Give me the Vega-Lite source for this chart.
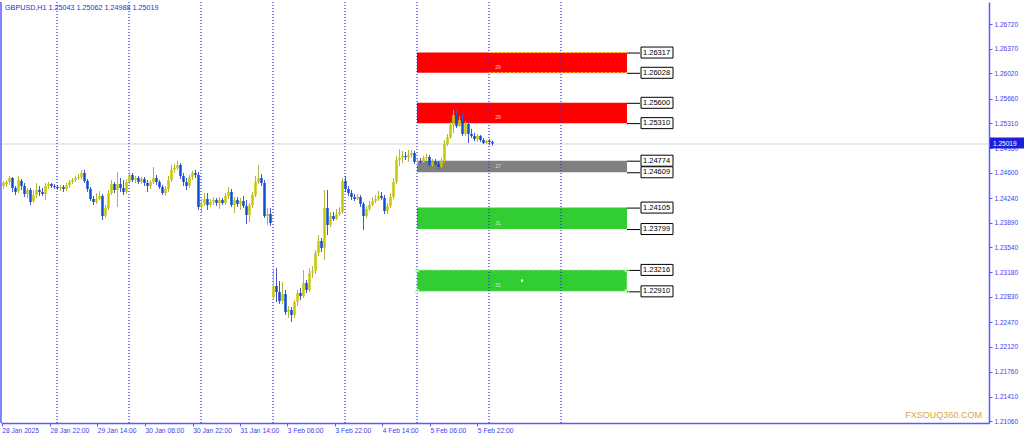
{
"$schema": "https://vega.github.io/schema/vega-lite/v6.json",
"width": 988, "height": 421, "autosize": "none",
"padding": {"left": 1, "top": 2, "right": 35, "bottom": 16},
"background": "white",
"config": {"view": {"stroke": null}},
"datasets": {
"candles": [
{"i":0,"o":1.24413,"c":1.24456,"h":1.24485,"l":1.24370},
{"i":1,"o":1.24442,"c":1.24470,"h":1.24499,"l":1.24399},
{"i":2,"o":1.24470,"c":1.24527,"h":1.24556,"l":1.24427},
{"i":3,"o":1.24527,"c":1.24385,"h":1.24542,"l":1.24328},
{"i":4,"o":1.24385,"c":1.24328,"h":1.24413,"l":1.24285},
{"i":5,"o":1.24342,"c":1.24499,"h":1.24556,"l":1.24313},
{"i":6,"o":1.24485,"c":1.24413,"h":1.24513,"l":1.24356},
{"i":7,"o":1.24413,"c":1.24299,"h":1.24456,"l":1.24256},
{"i":8,"o":1.24299,"c":1.24356,"h":1.24385,"l":1.24242},
{"i":9,"o":1.24356,"c":1.24185,"h":1.24385,"l":1.24142},
{"i":10,"o":1.24199,"c":1.24285,"h":1.24356,"l":1.24171},
{"i":11,"o":1.24285,"c":1.24356,"h":1.24456,"l":1.24242},
{"i":12,"o":1.24356,"c":1.24328,"h":1.24413,"l":1.24271},
{"i":13,"o":1.24328,"c":1.24299,"h":1.24385,"l":1.24271},
{"i":14,"o":1.24299,"c":1.24413,"h":1.24456,"l":1.24214},
{"i":15,"o":1.24413,"c":1.24442,"h":1.24470,"l":1.24370},
{"i":16,"o":1.24442,"c":1.24413,"h":1.24456,"l":1.24385},
{"i":17,"o":1.24413,"c":1.24399,"h":1.24442,"l":1.24370},
{"i":18,"o":1.24399,"c":1.24385,"h":1.24427,"l":1.24356},
{"i":19,"o":1.24385,"c":1.24399,"h":1.24427,"l":1.24342},
{"i":20,"o":1.24399,"c":1.24370,"h":1.24427,"l":1.24328},
{"i":21,"o":1.24370,"c":1.24427,"h":1.24456,"l":1.24342},
{"i":22,"o":1.24427,"c":1.24470,"h":1.24499,"l":1.24385},
{"i":23,"o":1.24470,"c":1.24499,"h":1.24527,"l":1.24442},
{"i":24,"o":1.24499,"c":1.24527,"h":1.24556,"l":1.24470},
{"i":25,"o":1.24527,"c":1.24542,"h":1.24584,"l":1.24499},
{"i":26,"o":1.24542,"c":1.24599,"h":1.24642,"l":1.24513},
{"i":27,"o":1.24599,"c":1.24485,"h":1.24642,"l":1.24456},
{"i":28,"o":1.24485,"c":1.24370,"h":1.24513,"l":1.24328},
{"i":29,"o":1.24370,"c":1.24228,"h":1.24399,"l":1.24199},
{"i":30,"o":1.24228,"c":1.24185,"h":1.24271,"l":1.24142},
{"i":31,"o":1.24185,"c":1.24228,"h":1.24313,"l":1.24157},
{"i":32,"o":1.24228,"c":1.24271,"h":1.24342,"l":1.24214},
{"i":33,"o":1.24271,"c":1.23985,"h":1.24299,"l":1.23928},
{"i":34,"o":1.23985,"c":1.24099,"h":1.24142,"l":1.23957},
{"i":35,"o":1.24099,"c":1.24313,"h":1.24356,"l":1.24071},
{"i":36,"o":1.24313,"c":1.24442,"h":1.24499,"l":1.24285},
{"i":37,"o":1.24442,"c":1.24356,"h":1.24470,"l":1.24313},
{"i":38,"o":1.24356,"c":1.24442,"h":1.24613,"l":1.24114},
{"i":39,"o":1.24442,"c":1.24385,"h":1.24527,"l":1.24328},
{"i":40,"o":1.24385,"c":1.24328,"h":1.24499,"l":1.24285},
{"i":41,"o":1.24328,"c":1.24470,"h":1.24513,"l":1.24299},
{"i":42,"o":1.24470,"c":1.24570,"h":1.24613,"l":1.24442},
{"i":43,"o":1.24570,"c":1.24499,"h":1.24599,"l":1.24470},
{"i":44,"o":1.24499,"c":1.24527,"h":1.24556,"l":1.24456},
{"i":45,"o":1.24527,"c":1.24470,"h":1.24556,"l":1.24442},
{"i":46,"o":1.24470,"c":1.24513,"h":1.24542,"l":1.24442},
{"i":47,"o":1.24513,"c":1.24456,"h":1.24542,"l":1.24413},
{"i":48,"o":1.24456,"c":1.24413,"h":1.24499,"l":1.24328},
{"i":49,"o":1.24413,"c":1.24470,"h":1.24499,"l":1.24370},
{"i":50,"o":1.24470,"c":1.24527,"h":1.24684,"l":1.24442},
{"i":51,"o":1.24527,"c":1.24470,"h":1.24570,"l":1.24427},
{"i":52,"o":1.24470,"c":1.24399,"h":1.24499,"l":1.24370},
{"i":53,"o":1.24399,"c":1.24313,"h":1.24427,"l":1.24285},
{"i":54,"o":1.24313,"c":1.24370,"h":1.24413,"l":1.24271},
{"i":55,"o":1.24370,"c":1.24499,"h":1.24556,"l":1.24328},
{"i":56,"o":1.24499,"c":1.24642,"h":1.24713,"l":1.24470},
{"i":57,"o":1.24642,"c":1.24670,"h":1.24727,"l":1.24599},
{"i":58,"o":1.24670,"c":1.24713,"h":1.24770,"l":1.24642},
{"i":59,"o":1.24713,"c":1.24556,"h":1.24741,"l":1.24513},
{"i":60,"o":1.24556,"c":1.24470,"h":1.24599,"l":1.24413},
{"i":61,"o":1.24470,"c":1.24413,"h":1.24527,"l":1.24356},
{"i":62,"o":1.24413,"c":1.24542,"h":1.24570,"l":1.24385},
{"i":63,"o":1.24542,"c":1.24599,"h":1.24627,"l":1.24499},
{"i":64,"o":1.24599,"c":1.24570,"h":1.24642,"l":1.24527},
{"i":65,"o":1.24570,"c":1.24114,"h":1.24613,"l":1.24071},
{"i":66,"o":1.24114,"c":1.24157,"h":1.24228,"l":1.24042},
{"i":67,"o":1.24157,"c":1.24228,"h":1.24313,"l":1.24128},
{"i":68,"o":1.24228,"c":1.24142,"h":1.24313,"l":1.24071},
{"i":69,"o":1.24142,"c":1.24185,"h":1.24228,"l":1.24114},
{"i":70,"o":1.24185,"c":1.24214,"h":1.24256,"l":1.24142},
{"i":71,"o":1.24214,"c":1.24171,"h":1.24242,"l":1.24128},
{"i":72,"o":1.24171,"c":1.24214,"h":1.24256,"l":1.24085},
{"i":73,"o":1.24214,"c":1.24171,"h":1.24242,"l":1.24142},
{"i":74,"o":1.24171,"c":1.24271,"h":1.24313,"l":1.24142},
{"i":75,"o":1.24271,"c":1.24328,"h":1.24399,"l":1.24228},
{"i":76,"o":1.24328,"c":1.24142,"h":1.24370,"l":1.24114},
{"i":77,"o":1.24142,"c":1.24214,"h":1.24256,"l":1.24028},
{"i":78,"o":1.24214,"c":1.24157,"h":1.24256,"l":1.24114},
{"i":79,"o":1.24157,"c":1.24199,"h":1.24242,"l":1.24071},
{"i":80,"o":1.24199,"c":1.24128,"h":1.24271,"l":1.24099},
{"i":81,"o":1.24128,"c":1.24000,"h":1.24214,"l":1.23871},
{"i":82,"o":1.24000,"c":1.24142,"h":1.24171,"l":1.23900},
{"i":83,"o":1.24142,"c":1.24285,"h":1.24328,"l":1.24099},
{"i":84,"o":1.24285,"c":1.24470,"h":1.24556,"l":1.24256},
{"i":85,"o":1.24470,"c":1.24527,"h":1.24713,"l":1.24442},
{"i":86,"o":1.24527,"c":1.24456,"h":1.24584,"l":1.24413},
{"i":87,"o":1.24456,"c":1.23985,"h":1.24499,"l":1.23957},
{"i":88,"o":1.23985,"c":1.24014,"h":1.24099,"l":1.23857},
{"i":89,"o":1.24014,"c":1.23885,"h":1.24099,"l":1.23843},
{"i":90,"o":1.22830,"c":1.22987,"h":1.23215,"l":1.22787},
{"i":91,"o":1.22987,"c":1.22901,"h":1.23243,"l":1.22758},
{"i":92,"o":1.22901,"c":1.22773,"h":1.23058,"l":1.22730},
{"i":93,"o":1.22773,"c":1.22872,"h":1.23044,"l":1.22730},
{"i":94,"o":1.22872,"c":1.22616,"h":1.22930,"l":1.22573},
{"i":95,"o":1.22616,"c":1.22644,"h":1.22701,"l":1.22530},
{"i":96,"o":1.22644,"c":1.22573,"h":1.22687,"l":1.22473},
{"i":97,"o":1.22573,"c":1.22758,"h":1.22787,"l":1.22530},
{"i":98,"o":1.22758,"c":1.22887,"h":1.22930,"l":1.22701},
{"i":99,"o":1.22887,"c":1.22844,"h":1.22958,"l":1.22787},
{"i":100,"o":1.22844,"c":1.23029,"h":1.23215,"l":1.22815},
{"i":101,"o":1.23029,"c":1.22930,"h":1.23072,"l":1.22887},
{"i":102,"o":1.22930,"c":1.23172,"h":1.23243,"l":1.22901},
{"i":103,"o":1.23172,"c":1.23200,"h":1.23272,"l":1.23101},
{"i":104,"o":1.23200,"c":1.23457,"h":1.23500,"l":1.23158},
{"i":105,"o":1.23457,"c":1.23629,"h":1.23714,"l":1.23415},
{"i":106,"o":1.23629,"c":1.23529,"h":1.23671,"l":1.23472},
{"i":107,"o":1.23529,"c":1.24099,"h":1.24356,"l":1.23358},
{"i":108,"o":1.24099,"c":1.23857,"h":1.24356,"l":1.23714},
{"i":109,"o":1.23857,"c":1.23985,"h":1.24042,"l":1.23828},
{"i":110,"o":1.23985,"c":1.23942,"h":1.24042,"l":1.23914},
{"i":111,"o":1.23942,"c":1.24014,"h":1.24085,"l":1.23928},
{"i":112,"o":1.24014,"c":1.24042,"h":1.24114,"l":1.23985},
{"i":113,"o":1.24042,"c":1.24485,"h":1.24527,"l":1.24014},
{"i":114,"o":1.24485,"c":1.24370,"h":1.24556,"l":1.24328},
{"i":115,"o":1.24370,"c":1.24313,"h":1.24413,"l":1.24271},
{"i":116,"o":1.24313,"c":1.24256,"h":1.24356,"l":1.24214},
{"i":117,"o":1.24256,"c":1.24228,"h":1.24299,"l":1.24199},
{"i":118,"o":1.24228,"c":1.24256,"h":1.24299,"l":1.24214},
{"i":119,"o":1.24256,"c":1.24157,"h":1.24285,"l":1.24114},
{"i":120,"o":1.24157,"c":1.23985,"h":1.24185,"l":1.23786},
{"i":121,"o":1.23985,"c":1.24085,"h":1.24128,"l":1.23957},
{"i":122,"o":1.24085,"c":1.24142,"h":1.24199,"l":1.24057},
{"i":123,"o":1.24142,"c":1.24199,"h":1.24256,"l":1.24128},
{"i":124,"o":1.24199,"c":1.24228,"h":1.24285,"l":1.24171},
{"i":125,"o":1.24228,"c":1.24271,"h":1.24342,"l":1.24199},
{"i":126,"o":1.24271,"c":1.24242,"h":1.24328,"l":1.24214},
{"i":127,"o":1.24242,"c":1.24057,"h":1.24285,"l":1.24014},
{"i":128,"o":1.24057,"c":1.24128,"h":1.24171,"l":1.24014},
{"i":129,"o":1.24128,"c":1.24256,"h":1.24313,"l":1.24099},
{"i":130,"o":1.24256,"c":1.24470,"h":1.24527,"l":1.24228},
{"i":131,"o":1.24470,"c":1.24784,"h":1.24841,"l":1.24442},
{"i":132,"o":1.24784,"c":1.24813,"h":1.24941,"l":1.24699},
{"i":133,"o":1.24813,"c":1.24841,"h":1.24913,"l":1.24741},
{"i":134,"o":1.24841,"c":1.24827,"h":1.24898,"l":1.24784},
{"i":135,"o":1.24827,"c":1.24856,"h":1.24927,"l":1.24756},
{"i":136,"o":1.24856,"c":1.24884,"h":1.24927,"l":1.24813},
{"i":137,"o":1.24884,"c":1.24756,"h":1.24913,"l":1.24727},
{"i":138,"o":1.24756,"c":1.24770,"h":1.24813,"l":1.24699},
{"i":139,"o":1.24770,"c":1.24756,"h":1.24813,"l":1.24727},
{"i":140,"o":1.24756,"c":1.24813,"h":1.24841,"l":1.24741},
{"i":141,"o":1.24813,"c":1.24827,"h":1.24870,"l":1.24770},
{"i":142,"o":1.24827,"c":1.24713,"h":1.24856,"l":1.24684},
{"i":143,"o":1.24713,"c":1.24756,"h":1.24798,"l":1.24684},
{"i":144,"o":1.24756,"c":1.24727,"h":1.24798,"l":1.24699},
{"i":145,"o":1.24727,"c":1.24684,"h":1.24770,"l":1.24642},
{"i":146,"o":1.24684,"c":1.24770,"h":1.24813,"l":1.24670},
{"i":147,"o":1.24770,"c":1.25013,"h":1.25070,"l":1.24741},
{"i":148,"o":1.25013,"c":1.25112,"h":1.25155,"l":1.24984},
{"i":149,"o":1.25112,"c":1.25284,"h":1.25326,"l":1.25084},
{"i":150,"o":1.25284,"c":1.25426,"h":1.25498,"l":1.25170},
{"i":151,"o":1.25426,"c":1.25269,"h":1.25498,"l":1.25241},
{"i":152,"o":1.25269,"c":1.25355,"h":1.25412,"l":1.25255},
{"i":153,"o":1.25355,"c":1.25155,"h":1.25455,"l":1.25127},
{"i":154,"o":1.25155,"c":1.25298,"h":1.25341,"l":1.25127},
{"i":155,"o":1.25298,"c":1.25155,"h":1.25341,"l":1.25027},
{"i":156,"o":1.25155,"c":1.25127,"h":1.25227,"l":1.25098},
{"i":157,"o":1.25127,"c":1.25084,"h":1.25170,"l":1.25055},
{"i":158,"o":1.25084,"c":1.25127,"h":1.25155,"l":1.25041},
{"i":159,"o":1.25127,"c":1.25070,"h":1.25141,"l":1.25041},
{"i":160,"o":1.25070,"c":1.25027,"h":1.25098,"l":1.25013},
{"i":161,"o":1.25027,"c":1.25055,"h":1.25070,"l":1.25013},
{"i":162,"o":1.25055,"c":1.25041,"h":1.25084,"l":1.24998},
{"i":163,"o":1.25043,"c":1.25019,"h":1.25062,"l":1.24988}
],
"zones": [
{"t1":138,"t2":208,"top":1.26317,"bot":1.26028,"zone":"sell","n":"29"},
{"t1":138,"t2":208,"top":1.25600,"bot":1.25310,"zone":"sell","n":"29"},
{"t1":138,"t2":208,"top":1.24774,"bot":1.24609,"zone":"mid","n":"17"},
{"t1":138,"t2":208,"top":1.24105,"bot":1.23799,"zone":"buy","n":"31"},
{"t1":138,"t2":208,"top":1.23216,"bot":1.22910,"zone":"buy","n":"31"}
],
"levels": [
{"t":208,"p":1.26317},{"t":208,"p":1.26028},{"t":208,"p":1.25600},{"t":208,"p":1.25310},
{"t":208,"p":1.24774},{"t":208,"p":1.24609},{"t":208,"p":1.24105},{"t":208,"p":1.23799},
{"t":208,"p":1.23216},{"t":208,"p":1.22910}
],
"seps": [{"t":18},{"t":42},{"t":66},{"t":90},{"t":114},{"t":138},{"t":162},{"t":186}],
"dash": [{"t1":162,"t2":208,"p":1.26317},{"t1":162,"t2":208,"p":1.26028}],
"handles": [{"t":138,"p":1.23216},{"t":138,"p":1.22910},{"t":208,"p":1.23216},{"t":208,"p":1.22910}],
"one": [{}]
},
"layer": [
{"data": {"name": "candles"}, "mark": {"type": "rule", "opacity": 0},
 "encoding": {
  "x": {"field": "i", "type": "quantitative", "scale": {"domain": [-0.6667, 328.6667], "nice": false, "zero": false, "padding": 0},
   "axis": {"orient": "bottom", "values": [-0.43, 15.67, 31.43, 47.33, 63.23, 79, 94.77, 110.67, 126.43, 142.33, 158.1], "tickCount": 100,
    "labelExpr": "['28 Jan 2025','28 Jan 22:00','29 Jan 14:00','30 Jan 06:00','30 Jan 22:00','31 Jan 14:00','3 Feb 06:00','3 Feb 22:00','4 Feb 14:00','5 Feb 06:00','5 Feb 22:00'][round((datum.value+0.43)/15.85)]",
    "labelAlign": "left", "labelBaseline": "top", "labelPadding": 1, "tickSize": 3, "tickColor": "#5a5aff", "domainColor": "#5a5aff", "domainWidth": 1.5,
    "labelColor": "#3c3cf0", "labelFont": "Liberation Sans", "labelFontSize": 6.7, "labelOverlap": false, "labelBound": false, "labelFlush": false, "grid": false, "title": null}},
  "y": {"field": "l", "type": "quantitative", "scale": {"domain": [1.21032, 1.27038], "nice": false, "zero": false, "padding": 0},
   "axis": {"orient": "right", "values": [1.2672, 1.2637, 1.2602, 1.2566, 1.2531, 1.2495, 1.246, 1.2424, 1.2389, 1.2354, 1.2318, 1.2283, 1.2247, 1.2212, 1.2176, 1.2141, 1.2106], "tickCount": 100,
    "format": ".5f", "labelFont": "Liberation Sans", "labelFontSize": 6.5, "labelColor": "#3c3cf0", "tickSize": 3, "tickColor": "#5a5aff", "domainColor": "#5a5aff", "domainWidth": 1.5,
    "labelPadding": 2, "labelBaseline": "middle", "labelOverlap": false, "labelBound": false, "labelFlush": false, "grid": false, "title": null}}}},
{"data": {"name": "one"}, "mark": {"type": "rule", "color": "#d6d6d6", "strokeWidth": 1, "yOffset": 0.5},
 "encoding": {"y": {"datum": 1.25019, "type": "quantitative", "scale": {"domain": [1.21032, 1.27038], "nice": false, "zero": false, "padding": 0}}}},
{"data": {"name": "zones"}, "mark": {"type": "rect"},
 "encoding": {
  "x": {"field": "t1", "type": "quantitative", "scale": {"domain": [-0.6667, 328.6667], "nice": false, "zero": false, "padding": 0}},
  "x2": {"field": "t2"},
  "y": {"field": "top", "type": "quantitative", "scale": {"domain": [1.21032, 1.27038], "nice": false, "zero": false, "padding": 0}},
  "y2": {"field": "bot"},
  "color": {"field": "zone", "type": "nominal", "scale": {"domain": ["sell", "mid", "buy"], "range": ["#ff0000", "#808080", "#32cd32"]}, "legend": null}}},
{"data": {"name": "dash"}, "mark": {"type": "rule", "color": "#f0e000", "strokeDash": [2, 2], "strokeWidth": 1},
 "encoding": {
  "x": {"field": "t1", "type": "quantitative", "scale": {"domain": [-0.6667, 328.6667], "nice": false, "zero": false, "padding": 0}},
  "x2": {"field": "t2"},
  "y": {"field": "p", "type": "quantitative", "scale": {"domain": [1.21032, 1.27038], "nice": false, "zero": false, "padding": 0}}}},
{"data": {"name": "seps"}, "mark": {"type": "rule", "strokeDash": [1, 2], "strokeWidth": 1.2},
 "encoding": {"x": {"field": "t", "type": "quantitative", "scale": {"domain": [-0.6667, 328.6667], "nice": false, "zero": false, "padding": 0}},
  "color": {"value": "#2d2dff"}}},
{"data": {"name": "one"}, "mark": {"type": "rule", "color": "#5a5aff", "strokeWidth": 1.5},
 "encoding": {"x": {"datum": -0.6667, "type": "quantitative", "scale": {"domain": [-0.6667, 328.6667], "nice": false, "zero": false, "padding": 0}}}},
{"data": {"name": "zones"}, "mark": {"type": "text", "fontSize": 5, "font": "Liberation Sans", "color": "white", "opacity": 0.75, "dx": 81, "dy": -6, "align": "center", "baseline": "middle"},
 "encoding": {
  "x": {"field": "t1", "type": "quantitative", "scale": {"domain": [-0.6667, 328.6667], "nice": false, "zero": false, "padding": 0}},
  "y": {"field": "bot", "type": "quantitative", "scale": {"domain": [1.21032, 1.27038], "nice": false, "zero": false, "padding": 0}},
  "text": {"field": "n"}}},
{"data": {"name": "levels"}, "mark": {"type": "rule", "color": "black", "strokeWidth": 1, "x2Offset": 13, "yOffset": 0.5, "y2Offset": 0.5},
 "encoding": {
  "x": {"field": "t", "type": "quantitative", "scale": {"domain": [-0.6667, 328.6667], "nice": false, "zero": false, "padding": 0}},
  "x2": {"field": "t"},
  "y": {"field": "p", "type": "quantitative", "scale": {"domain": [1.21032, 1.27038], "nice": false, "zero": false, "padding": 0}}}},
{"data": {"name": "levels"}, "mark": {"type": "rect", "fill": "white", "stroke": "black", "strokeWidth": 1, "xOffset": 14, "x2Offset": 46, "yOffset": -5.5, "y2Offset": 5.5},
 "encoding": {
  "x": {"field": "t", "type": "quantitative", "scale": {"domain": [-0.6667, 328.6667], "nice": false, "zero": false, "padding": 0}},
  "x2": {"field": "t"},
  "y": {"field": "p", "type": "quantitative", "scale": {"domain": [1.21032, 1.27038], "nice": false, "zero": false, "padding": 0}},
  "y2": {"field": "p"}}},
{"data": {"name": "levels"}, "mark": {"type": "text", "fontSize": 7.5, "font": "Liberation Sans", "color": "black", "dx": 16, "align": "left", "baseline": "middle"},
 "encoding": {
  "x": {"field": "t", "type": "quantitative", "scale": {"domain": [-0.6667, 328.6667], "nice": false, "zero": false, "padding": 0}},
  "y": {"field": "p", "type": "quantitative", "scale": {"domain": [1.21032, 1.27038], "nice": false, "zero": false, "padding": 0}},
  "text": {"field": "p", "format": ".5f"}}},
{"data": {"name": "candles"}, "mark": {"type": "rule", "strokeWidth": 1, "xOffset": 0.5},
 "encoding": {
  "x": {"field": "i", "type": "quantitative", "scale": {"domain": [-0.6667, 328.6667], "nice": false, "zero": false, "padding": 0}},
  "y": {"field": "l", "type": "quantitative", "scale": {"domain": [1.21032, 1.27038], "nice": false, "zero": false, "padding": 0}},
  "y2": {"field": "h"},
  "color": {"condition": {"test": "datum.c >= datum.o", "value": "#b4b446"}, "value": "#5050c8"}}},
{"data": {"name": "candles"}, "mark": {"type": "bar", "width": 2.5, "xOffset": 0.5},
 "encoding": {
  "x": {"field": "i", "type": "quantitative", "scale": {"domain": [-0.6667, 328.6667], "nice": false, "zero": false, "padding": 0}},
  "y": {"field": "o", "type": "quantitative", "scale": {"domain": [1.21032, 1.27038], "nice": false, "zero": false, "padding": 0}},
  "y2": {"field": "c"},
  "color": {"condition": {"test": "datum.c >= datum.o", "value": "#c8c800"}, "value": "#0a4fd0"}}},
{"data": {"name": "zones"}, "transform": [{"filter": "datum.bot < 1.23"}], "mark": {"type": "rect", "fill": null, "stroke": "#b4f0b4", "strokeDash": [3, 2], "strokeWidth": 1},
 "encoding": {
  "x": {"field": "t1", "type": "quantitative", "scale": {"domain": [-0.6667, 328.6667], "nice": false, "zero": false, "padding": 0}},
  "x2": {"field": "t2"},
  "y": {"field": "top", "type": "quantitative", "scale": {"domain": [1.21032, 1.27038], "nice": false, "zero": false, "padding": 0}},
  "y2": {"field": "bot"}}},
{"data": {"name": "handles"}, "mark": {"type": "square", "size": 12, "filled": false, "color": "#c8ffc8", "strokeWidth": 1, "opacity": 1},
 "encoding": {
  "x": {"field": "t", "type": "quantitative", "scale": {"domain": [-0.6667, 328.6667], "nice": false, "zero": false, "padding": 0}},
  "y": {"field": "p", "type": "quantitative", "scale": {"domain": [1.21032, 1.27038], "nice": false, "zero": false, "padding": 0}}}},
{"data": {"name": "one"}, "mark": {"type": "square", "size": 5, "filled": true, "color": "white", "opacity": 1},
 "encoding": {
  "x": {"datum": 173, "type": "quantitative", "scale": {"domain": [-0.6667, 328.6667], "nice": false, "zero": false, "padding": 0}},
  "y": {"datum": 1.23063, "type": "quantitative", "scale": {"domain": [1.21032, 1.27038], "nice": false, "zero": false, "padding": 0}}}},
{"data": {"name": "one"}, "mark": {"type": "rect", "fill": "#1e1edc", "yOffset": -6, "y2Offset": 5},
 "encoding": {
  "x": {"datum": 329, "type": "quantitative", "scale": {"domain": [-0.6667, 328.6667], "nice": false, "zero": false, "padding": 0}},
  "x2": {"datum": 341},
  "y": {"datum": 1.25019, "type": "quantitative", "scale": {"domain": [1.21032, 1.27038], "nice": false, "zero": false, "padding": 0}},
  "y2": {"datum": 1.25019}}},
{"data": {"name": "one"}, "mark": {"type": "text", "fontSize": 6.5, "font": "Liberation Sans", "color": "white", "dx": 3, "align": "left", "baseline": "middle"},
 "encoding": {
  "x": {"datum": 329, "type": "quantitative", "scale": {"domain": [-0.6667, 328.6667], "nice": false, "zero": false, "padding": 0}},
  "y": {"datum": 1.25019, "type": "quantitative", "scale": {"domain": [1.21032, 1.27038], "nice": false, "zero": false, "padding": 0}},
  "text": {"value": "1.25019"}}},
{"data": {"name": "one"}, "mark": {"type": "text", "fontSize": 9, "font": "Liberation Sans", "color": "#d9a441", "align": "right", "baseline": "alphabetic"},
 "encoding": {
  "x": {"datum": 326.3, "type": "quantitative", "scale": {"domain": [-0.6667, 328.6667], "nice": false, "zero": false, "padding": 0}},
  "y": {"datum": 1.21103, "type": "quantitative", "scale": {"domain": [1.21032, 1.27038], "nice": false, "zero": false, "padding": 0}},
  "text": {"value": "FXSOUQ360.COM"}}},
{"data": {"name": "one"}, "mark": {"type": "text", "fontSize": 7.2, "font": "Liberation Sans", "color": "#2d2dd2", "align": "left", "baseline": "alphabetic"},
 "encoding": {
  "x": {"datum": 0.67, "type": "quantitative", "scale": {"domain": [-0.6667, 328.6667], "nice": false, "zero": false, "padding": 0}},
  "y": {"datum": 1.26924, "type": "quantitative", "scale": {"domain": [1.21032, 1.27038], "nice": false, "zero": false, "padding": 0}},
  "text": {"value": "GBPUSD,H1  1.25043 1.25062 1.24988 1.25019"}}}
]
}
